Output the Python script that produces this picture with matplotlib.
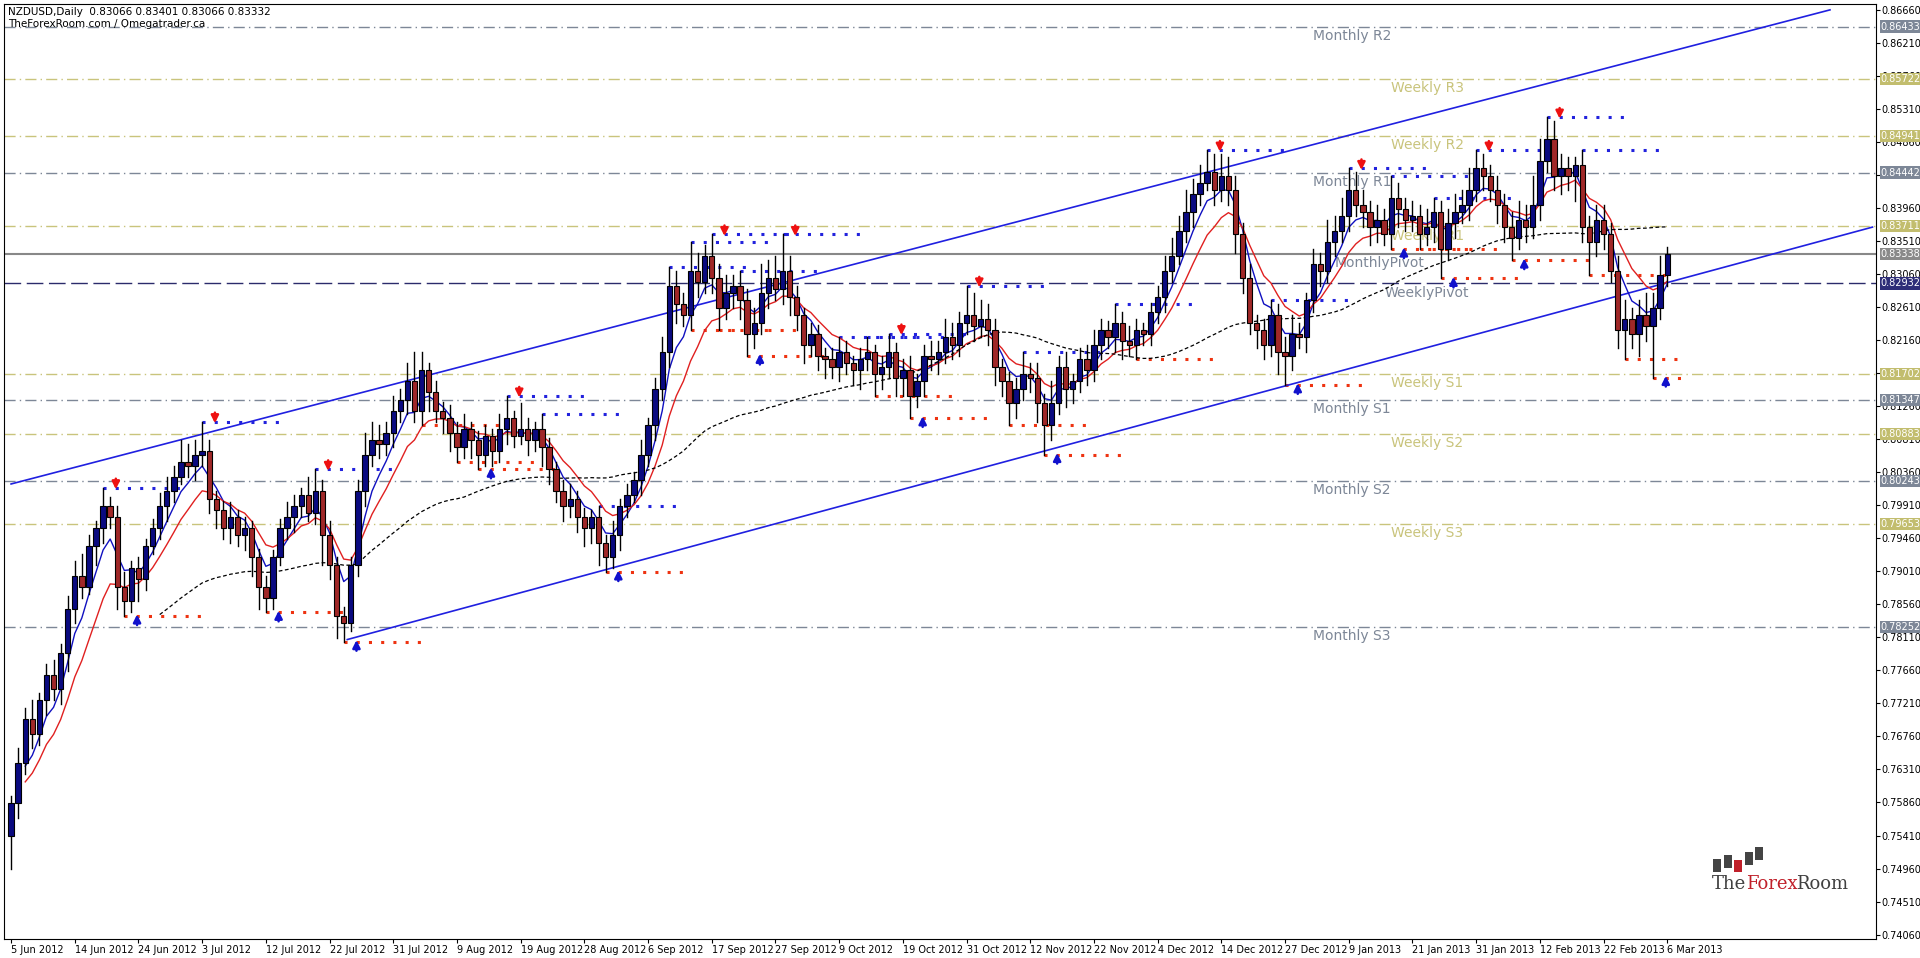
import matplotlib
matplotlib.use("Agg")
import matplotlib.pyplot as plt
import numpy as np
import pandas as pd
from matplotlib.patches import Rectangle

# ---------------- data ----------------
closes = [
 0.7585,0.7640,0.7700,0.7680,0.7725,0.7760,0.7740,0.7790,0.7850,
 0.7895,0.7880,0.7935,0.7960,0.7990,0.7975,0.7880,0.7860,0.7905,
 0.7890,0.7935,0.7960,0.7990,0.8010,0.8030,0.8050,0.8045,0.8060,
 0.8065,0.8000,0.7985,0.7960,0.7975,0.7950,0.7960,0.7920,0.7880,
 0.7865,0.7920,0.7960,0.7975,0.7990,0.8005,0.7980,0.8010,0.7950,
 0.7910,0.7840,0.7830,0.7910,0.8010,0.8060,0.8080,0.8075,0.8090,
 0.8120,0.8135,0.8160,0.8120,0.8175,0.8145,0.8120,0.8110,0.8090,
 0.8070,0.8095,0.8080,0.8060,0.8085,0.8065,0.8095,0.8110,0.8085,
 0.8095,0.8080,0.8095,0.8070,0.8040,0.8010,0.7990,0.8000,0.7975,
 0.7960,0.7975,0.7940,0.7920,0.7950,0.7990,0.8005,0.8025,0.8060,
 0.8100,0.8150,0.8200,0.8290,0.8265,0.8250,0.8310,0.8295,0.8330,
 0.8300,0.8260,0.8280,0.8290,0.8270,0.8225,0.8240,0.8280,0.8300,
 0.8285,0.8310,0.8275,0.8250,0.8210,0.8225,0.8195,0.8190,0.8180,
 0.8200,0.8185,0.8175,0.8190,0.8200,0.8170,0.8180,0.8200,0.8165,
 0.8175,0.8140,0.8160,0.8195,0.8190,0.8200,0.8220,0.8210,0.8240,
 0.8250,0.8235,0.8245,0.8230,0.8180,0.8160,0.8130,0.8150,0.8170,
 0.8165,0.8130,0.8100,0.8130,0.8180,0.8150,0.8160,0.8190,0.8175,
 0.8210,0.8230,0.8220,0.8240,0.8215,0.8210,0.8230,0.8225,0.8255,
 0.8275,0.8310,0.8330,0.8365,0.8390,0.8415,0.8430,0.8445,0.8420,
 0.8440,0.8420,0.8360,0.8300,0.8240,0.8230,0.8210,0.8250,0.8200,
 0.8195,0.8225,0.8220,0.8270,0.8320,0.8310,0.8350,0.8365,0.8385,
 0.8420,0.8400,0.8390,0.8370,0.8380,0.8360,0.8410,0.8395,0.8380,
 0.8385,0.8360,0.8370,0.8390,0.8340,0.8375,0.8390,0.8400,0.8420,
 0.8450,0.8440,0.8420,0.8400,0.8370,0.8355,0.8380,0.8370,0.8400,
 0.8460,0.8490,0.8440,0.8450,0.8440,0.8455,0.8370,0.8350,0.8380,
 0.8360,0.8310,0.8230,0.8245,0.8225,0.8250,0.8235,0.8260,0.8305,
 0.8333]
first_open = 0.7540
# wick sizes in pips (upper, lower)
up_wick = [
 10,20,15,25,10,15,20,12,18, 20,30,15,10,25,12,15,20,10,
 15,10,12,18,20,15,30,25,20, 40,15,10,12,20,10,15,10,12,
 15,10,12,20,15,10,25,30,15, 20,10,12,10,15,30,25,20,15,
 20,15,25,40,25,10,15,12,18, 15,20,10,12,15,10,20,30,10,
 35,15,10,20,12,10,15,20,10, 12,10,15,10,20,10,15,12,20,
 10,15,20,25,20,15,40,25,15, 30,20,25,15,20,15,20,40,25,
 30,50,20,15,10,15,12,10,15, 20,15,10,15,20,10,15,25,12,
 15,20,10,15,20,15,25,20,15, 40,30,25,20,15,10,12,15,30,
 15,20,12,30,15,20,10,15,20, 20,15,12,25,15,20,15,10,12,
 15,20,25,20,30,20,25,30,25, 30,25,20,15,20,10,15,20,15,
 20,25,15,10,20,15,30,20,25, 30,25,20,15,20,15,30,20,15,
 20,15,25,20,15,20,25,20,30, 25,20,15,20,15,20,25,20,40,
 30,30,25,20,15,10,20,15,20, 20,15,20,25,15,20,30,20,25,
 10]
dn_wick = [
 45,20,15,20,15,20,15,20,25, 20,15,10,25,20,15,30,20,15,
 30,15,10,15,20,15,10,15,20, 15,20,25,15,20,15,20,25,30,
 20,15,10,15,20,15,10,15,40, 20,30,25,10,15,20,15,20,15,
 20,15,20,15,20,25,15,20,25, 20,15,25,20,15,20,15,20,15,
 10,20,15,25,20,15,20,15,20, 25,20,30,20,15,20,15,10,20,
 15,20,15,20,25,15,20,20,15, 20,30,15,20,25,30,20,15,20,
 15,20,25,20,25,15,20,25,15, 20,15,20,25,15,30,20,15,25,
 25,30,15,20,15,20,15,20,15, 15,20,15,20,25,20,30,20,15,
 20,25,40,20,15,25,20,15,20, 15,20,15,20,25,15,20,15,15,
 15,20,15,10,15,20,15,10,20, 15,20,25,20,15,25,20,15,30,
 40,20,15,20,15,20,15,20,15, 20,15,20,25,20,15,20,25,15,
 15,20,15,20,40,15,20,15,20, 15,20,15,25,20,30,15,20,15,
 20,15,20,25,20,35,20,45,20, 20,15,25,40,20,30,20,70,15,
 15]

date_labels = ["5 Jun 2012","14 Jun 2012","24 Jun 2012","3 Jul 2012","12 Jul 2012",
 "22 Jul 2012","31 Jul 2012","9 Aug 2012","19 Aug 2012","28 Aug 2012","6 Sep 2012",
 "17 Sep 2012","27 Sep 2012","9 Oct 2012","19 Oct 2012","31 Oct 2012","12 Nov 2012",
 "22 Nov 2012","4 Dec 2012","14 Dec 2012","27 Dec 2012","9 Jan 2013","21 Jan 2013",
 "31 Jan 2013","12 Feb 2013","22 Feb 2013","6 Mar 2013"]
bars_per_label = 9

level_names  = ["Monthly R2","Weekly R3","Weekly R2","Monthly R1","Weekly R1","MonthlyPivot",
                "WeeklyPivot","Weekly S1","Monthly S1","Weekly S2","Monthly S2","Weekly S3","Monthly S3"]
level_values = [0.86433,0.85722,0.84941,0.84442,0.83711,0.83338,0.82932,0.81702,0.81347,
                0.80883,0.80243,0.79653,0.78252]
level_kind   = ["M","W","W","M","W","MP","WP","W","M","W","M","W","M"]

channel_upper = [(0, 0.8020), (257, 0.8666)]
channel_lower = [(47.5, 0.7808), (263, 0.8370)]

# ---------------- derived ----------------
c = np.array(closes)
n = len(c)
o = np.concatenate([[first_open], c[:-1]])
h = np.maximum(o, c) + np.array(up_wick[:n]) * 1e-4
l = np.minimum(o, c) - np.array(dn_wick[:n]) * 1e-4
x = np.arange(n)

fig = plt.figure(figsize=(19.2, 9.58), dpi=100)
ax = fig.add_axes([4/1920, 19/958, 1872/1920, 935/958])
ax.set_xlim(-1, 263.5)
ax.set_ylim(0.7400, 0.8674)

MCOL = "#7d8797"
WCOL = "#c9c47c"
for name, v, k in zip(level_names, level_values, level_kind):
    if k == "M":
        ax.axhline(v, color=MCOL, lw=1, ls=(0, (8, 3, 1, 3)))
        ax.text(184, v - 0.0003, name, color=MCOL, fontsize=10, va="top")
        bg = "#7d8797"
    elif k == "W":
        ax.axhline(v, color=WCOL, lw=1, ls=(0, (8, 3, 1, 3)))
        ax.text(195, v - 0.0003, name, color=WCOL, fontsize=10, va="top")
        bg = "#c2bd6e"
    elif k == "MP":
        ax.axhline(v, color="#888888", lw=1.5, ls="-")
        ax.text(187, v - 0.0003, name, color=MCOL, fontsize=10, va="top")
        bg = "#8a8a8a"
    else:
        ax.axhline(v, color="#2b2b6b", lw=1, ls=(0, (12, 4)))
        ax.text(194, v - 0.0003, name, color=MCOL, fontsize=10, va="top")
        bg = "#2e2e78"
    ax.text(1.0025, v, f"{v:.5f}", transform=ax.get_yaxis_transform(), fontsize=7,
            color="white", va="center", ha="left", zorder=10,
            bbox=dict(boxstyle="square,pad=0.12", fc=bg, ec="none"))

# channel
for (x0, y0), (x1, y1) in [channel_upper, channel_lower]:
    ax.plot([x0, x1], [y0, y1], color="#2020e0", lw=1.2, zorder=3)

# moving averages
s = pd.Series(c)
ema_fast = s.ewm(span=5, adjust=False).mean()
ema_slow = s.ewm(span=10, adjust=False).mean()
sma50 = s.rolling(50, min_periods=22).mean()
ax.plot(x[2:], ema_fast[2:], color="#1010c0", lw=1, zorder=4)
ax.plot(x[2:], ema_slow[2:], color="#e02020", lw=1, zorder=4)
ax.plot(x, sma50, color="black", lw=0.9, ls=(0, (3, 2)), zorder=4)

# fractals
for i in range(2, n - 2):
    if h[i] > max(h[i-2], h[i-1], h[i+1], h[i+2]):
        ax.plot([i, min(i + 12, n + 1)], [h[i], h[i]], color="#2222dd", lw=2.2,
                ls=(0, (1, 3)), zorder=2)
        if h[i] >= max(h[max(0, i-6):i+7]):
            ax.annotate("", xy=(i+1.8, h[i] - 0.0006), xytext=(i+1.8, h[i] + 0.0016),
                        arrowprops=dict(arrowstyle="-|>", color="#ee1111", lw=1.8,
                                        mutation_scale=11), zorder=5)
    if l[i] < min(l[i-2], l[i-1], l[i+1], l[i+2]):
        ax.plot([i, min(i + 12, n + 1)], [l[i], l[i]], color="#ee3311", lw=2.2,
                ls=(0, (1, 3)), zorder=2)
        if l[i] <= min(l[max(0, i-6):i+7]):
            ax.annotate("", xy=(i+1.8, l[i] + 0.0006), xytext=(i+1.8, l[i] - 0.0016),
                        arrowprops=dict(arrowstyle="-|>", color="#1111cc", lw=1.8,
                                        mutation_scale=11), zorder=5)

# candles
for i in range(n):
    ax.plot([i, i], [l[i], h[i]], color="black", lw=1, zorder=6)
    bull = c[i] >= o[i]
    fc = "#0a0a80" if bull else "#a02828"
    body = max(abs(c[i] - o[i]), 0.00008)
    ax.add_patch(Rectangle((i - 0.38, min(o[i], c[i])), 0.76, body, fc=fc,
                           ec="black", lw=0.8, zorder=7))

# axes
ax.yaxis.tick_right()
yt = np.round(0.86660 - 0.0045 * np.arange(29), 5)
ax.set_yticks(yt)
ax.set_yticklabels([f"{v:.5f}" for v in yt], fontsize=7)
xt = [bars_per_label * k for k in range(len(date_labels))]
ax.set_xticks(xt)
ax.set_xticklabels(date_labels, fontsize=7, ha="left")
ax.tick_params(length=3, pad=1)
for sp in ax.spines.values():
    sp.set_color("black")

fig.text(8/1920, 1 - 12/958, "NZDUSD,Daily  0.83066 0.83401 0.83066 0.83332", fontsize=7.5, va="center")
fig.text(8/1920, 1 - 24/958, "TheForexRoom.com / Omegatrader.ca", fontsize=7.5, va="center")

# watermark
fig.text(1712/1920, 1 - 884/958, "The", fontsize=13, family="DejaVu Serif", color="#404040", va="center")
fig.text(1746/1920, 1 - 884/958, "Forex", fontsize=13, family="DejaVu Serif", color="#c0202a", va="center")
fig.text(1796/1920, 1 - 884/958, "Room", fontsize=13, family="DejaVu Serif", color="#404040", va="center")
for k, (yy, hh, col) in enumerate([(872, 13, "#444"), (868, 13, "#444"), (872, 12, "#c0202a"),
                                   (865, 13, "#444"), (860, 13, "#444")]):
    fig.patches.append(Rectangle(((1713 + k * 10.5) / 1920, 1 - (yy) / 958), 8 / 1920, hh / 958,
                                 transform=fig.transFigure, fc=col, ec="none"))

fig.savefig("out.png", dpi=100, facecolor="white")
